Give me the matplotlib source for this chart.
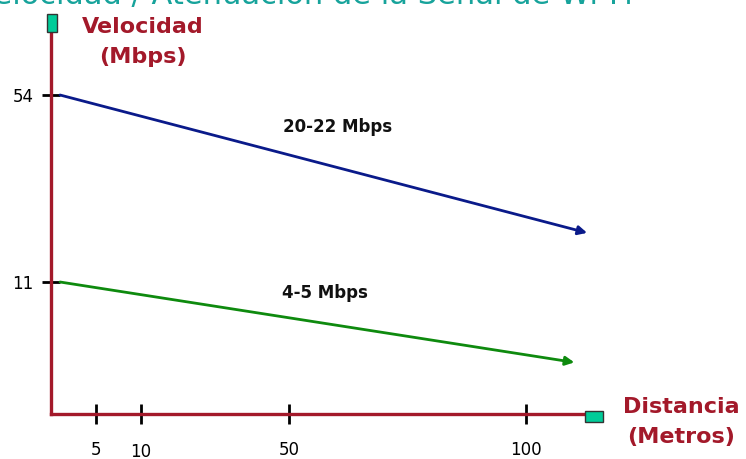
import numpy as np
import matplotlib
matplotlib.use("Agg")
import matplotlib.pyplot as plt
from matplotlib.patches import Rectangle
from matplotlib.scale import FuncScale

# ---- data ----
title = "Velocidad / Atenuación de la Señal de Wi-Fi"
ylabel_txt = "Velocidad\n(Mbps)"
xlabel_txt = "Distancia\n(Metros)"
x_ticks = [5, 10, 50, 100]
x_ticklabels = ["5", "10", "50", "100"]
y_ticks = [11, 54]
y_ticklabels = ["11", "54"]
dist_start = 1.0
high_dist = [dist_start, 112.9]
high_speed = [54, 22.3]
low_dist = [dist_start, 110.2]
low_speed = [11, 4.3]
high_label = "20-22 Mbps"
low_label = "4-5 Mbps"

# ---- schematic (non-linear) axis scales ----
W, H = 746, 459
xd = np.array([-1000, 0, 5, 10, 50, 100, 1000])
xp = np.array([51 - 9000, 51, 96, 141, 289, 526, 526 + 900 * 4.74])
yd = np.array([-1000, 0, 11, 54, 1000])
yp = np.array([-12000, 0, 132, 319, 319 + 946 * 4.35])

def fx(v):
    return np.interp(v, xd, xp)
def ix(v):
    return np.interp(v, xp, xd)
def fy(v):
    return np.interp(v, yd, yp)
def iy(v):
    return np.interp(v, yp, yd)

fig = plt.figure(figsize=(W / 100, H / 100), dpi=100)
ax_left, ax_right = 51, 594
ax_bottom, ax_top = 414, 23
ax = fig.add_axes([ax_left / W, (H - ax_bottom) / H,
                   (ax_right - ax_left) / W, (ax_bottom - ax_top) / H])
ax.set_xscale(FuncScale(ax, (fx, ix)))
ax.set_yscale(FuncScale(ax, (fy, iy)))
ax.set_xlim(0, ix(ax_right))
ax.set_ylim(0, iy(ax_bottom - ax_top))

red = "#A3192A"
for s in ["top", "right"]:
    ax.spines[s].set_visible(False)
for s in ["left", "bottom"]:
    ax.spines[s].set_color(red)
    ax.spines[s].set_linewidth(2.4)

ax.set_xticks(x_ticks)
ax.set_xticklabels(x_ticklabels)
ax.set_yticks(y_ticks)
ax.set_yticklabels(y_ticklabels)
ax.minorticks_off()
ax.tick_params(axis="x", direction="inout", length=14.5, width=2, color="black",
               pad=12, labelsize=12)
ax.tick_params(axis="y", direction="inout", length=13, width=2, color="black",
               pad=6, labelsize=12)
for lab in ax.get_xticklabels():
    if lab.get_text() == "10":
        lab.set_y(-0.007)

# lines with arrows
ax.annotate("", xy=(high_dist[1], high_speed[1]), xytext=(high_dist[0], high_speed[0]),
            arrowprops=dict(arrowstyle="-|>", color="#0A1A8A", lw=2,
                            mutation_scale=13, shrinkA=0, shrinkB=0))
ax.annotate("", xy=(low_dist[1], low_speed[1]), xytext=(low_dist[0], low_speed[0]),
            arrowprops=dict(arrowstyle="-|>", color="#0E8A0E", lw=2,
                            mutation_scale=13, shrinkA=0, shrinkB=0))

# line labels
fig.text(338 / W, 1 - 127 / H, high_label, ha="center", va="center",
         fontsize=12, fontweight="bold", color="#111111")
fig.text(325 / W, 1 - 293 / H, low_label, ha="center", va="center",
         fontsize=12, fontweight="bold", color="#111111")

# axis labels
fig.text(143 / W, 1 - 42 / H, ylabel_txt, ha="center", va="center",
         fontsize=16, fontweight="bold", color=red, linespacing=1.6)
fig.text(681 / W, 1 - 422 / H, xlabel_txt, ha="center", va="center",
         fontsize=16, fontweight="bold", color=red, linespacing=1.6)

# title (cut off at top/left)
fig.text(633 / W, 1 - 4 / H, title, ha="right", va="baseline",
         fontsize=22, color="#17A39B")

# teal end markers
teal = "#00CC99"
fig.add_artist(Rectangle((47 / W, 1 - 32 / H), 10 / W, 18 / H, transform=fig.transFigure,
                         facecolor=teal, edgecolor="#333333", lw=1, zorder=5))
fig.add_artist(Rectangle((585 / W, 1 - 422 / H), 18 / W, 11 / H, transform=fig.transFigure,
                         facecolor=teal, edgecolor="#333333", lw=1, zorder=5))

fig.savefig("out.png", dpi=100)
